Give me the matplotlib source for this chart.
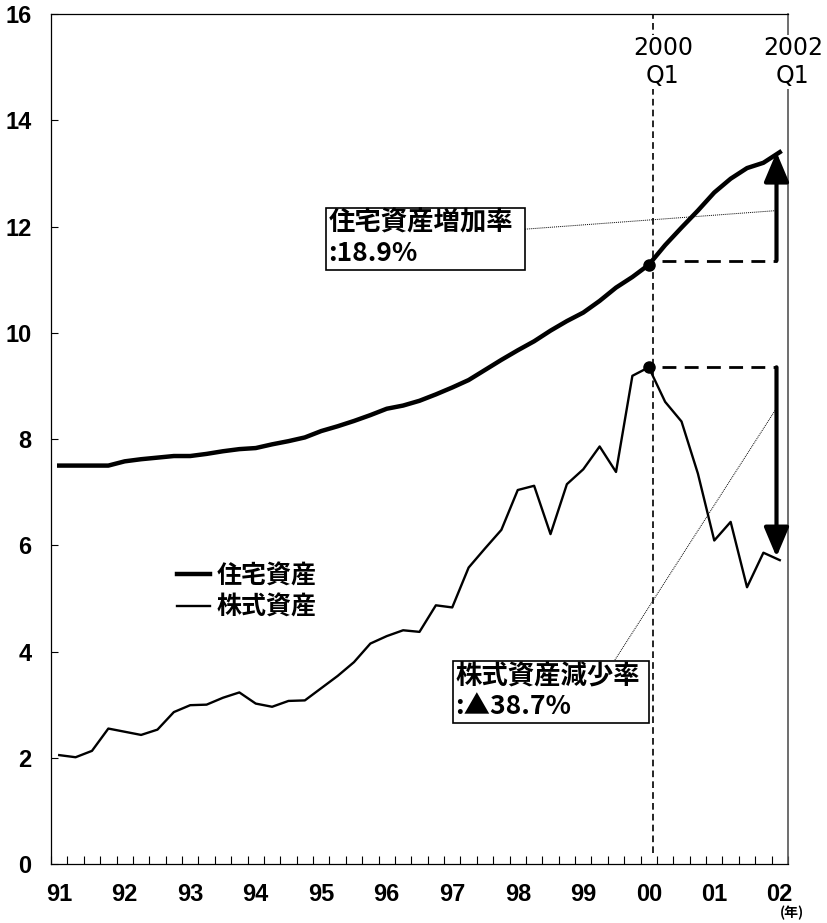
import numpy as np
import matplotlib.pyplot as plt
from matplotlib.patches import Rectangle

plt.rcParams['font.family'] = ['Noto Sans CJK JP', 'DejaVu Sans']

# quarterly data, 1991Q1 .. 2002Q1
year_labels = ['91', '92', '93', '94', '95', '96', '97', '98', '99', '00', '01', '02']
housing = [7.50, 7.50, 7.50, 7.50, 7.58, 7.62, 7.65, 7.68, 7.68, 7.72,
           7.77, 7.81, 7.83, 7.90, 7.96, 8.03, 8.15, 8.24, 8.34, 8.45,
           8.57, 8.63, 8.72, 8.84, 8.97, 9.11, 9.30, 9.49, 9.67, 9.84,
           10.04, 10.22, 10.38, 10.60, 10.85, 11.05, 11.28, 11.65, 11.98, 12.30,
           12.64, 12.90, 13.10, 13.20, 13.40]
stock = [2.05, 2.01, 2.13, 2.55, 2.49, 2.43, 2.53, 2.86, 2.99, 3.00,
         3.13, 3.23, 3.02, 2.96, 3.07, 3.08, 3.31, 3.54, 3.80, 4.15,
         4.29, 4.40, 4.37, 4.87, 4.83, 5.58, 5.94, 6.29, 7.04, 7.12,
         6.21, 7.15, 7.43, 7.86, 7.38, 9.19, 9.35, 8.70, 8.33, 7.35,
         6.09, 6.44, 5.21, 5.86, 5.72]
series_names = ['住宅資産', '株式資産']
house_note = ['住宅資産増加率', ':18.9%']
stock_note = ['株式資産減少率', ':▲38.7%']

x = np.arange(len(housing))
i0, i1 = 36, 44  # 2000Q1, 2002Q1

fig = plt.figure(figsize=(8.27, 9.23), dpi=100)
ax = fig.add_axes([0.0617, 0.0639, 0.8911, 0.9209])

l1, = ax.plot(x, housing, color='black', lw=3.2, solid_joinstyle='round', zorder=4)
l2, = ax.plot(x, stock, color='black', lw=1.7, zorder=4)
ax.plot([x[i0], x[i0]], [housing[i0], stock[i0]], 'o', color='black', ms=8, zorder=5)

ax.set_xlim(-0.5, len(x) - 0.5)
ax.set_ylim(0, 16)

# 2000Q1 marker line
xv = x[i0] + 0.25
ax.plot([xv, xv], [0.2, 16], color='black', lw=1.2, ls=(0, (4, 2.5)), zorder=3)

# change arrows
xa = x[i1] - 0.2
ax.plot([x[i0] + 0.8, xa], [housing[i0] + 0.08, housing[i0] + 0.08], color='black',
        lw=2, ls=(0, (5, 3)), zorder=3)
ax.plot([x[i0] + 0.8, xa], [stock[i0], stock[i0]], color='black',
        lw=2, ls=(0, (5, 3)), zorder=3)
arrow = dict(arrowstyle='-|>,head_length=0.9,head_width=0.38', lw=3, color='black',
             mutation_scale=20, shrinkA=0, shrinkB=0)
ax.annotate('', xy=(xa, housing[i1]), xytext=(xa, housing[i0] + 0.08), arrowprops=arrow, zorder=6)
ax.annotate('', xy=(xa, stock[i1] + 0.06), xytext=(xa, stock[i0]), arrowprops=arrow, zorder=6)

# leader lines
ax.plot([28.44, xa], [11.95, 12.30], color='black', lw=0.7, ls=(0, (1, 1)), zorder=3)
ax.plot([33.93, xa], [3.84, 8.58], color='black', lw=0.7, ls=(0, (1, 1)), zorder=3)

# note boxes
note_font = dict(fontsize=19, fontweight='bold', va='center', zorder=7)
ax.add_patch(Rectangle((16.29, 11.18), 28.44 - 16.29, 12.35 - 11.18, fill=True,
                       facecolor='white', edgecolor='black', lw=1.2, zorder=6))
ax.text(16.45, 12.07, house_note[0], **note_font)
ax.text(16.45, 11.5, house_note[1], **note_font)
ax.add_patch(Rectangle((24.04, 2.65), 36.0 - 24.04, 3.82 - 2.65, fill=True,
                       facecolor='white', edgecolor='black', lw=1.2, zorder=6))
ax.text(24.2, 3.52, stock_note[0], **note_font)
ax.text(24.2, 2.96, stock_note[1], **note_font)

# period labels
for xt, lab in [(36.86, '2000\nQ1'), (44.8, '2002\nQ1')]:
    ax.text(xt, 15.1, lab, fontsize=17, family='DejaVu Sans', ha='center', va='center',
            linespacing=1.2, clip_on=False, zorder=8,
            bbox=dict(facecolor='white', edgecolor='none', pad=1))

# axes styling
for s in ['left', 'bottom', 'top']:
    ax.spines[s].set_linewidth(0.9)
ax.spines['right'].set_color('#555555')
ax.spines['right'].set_linewidth(1.2)

ax.set_yticks(np.arange(0, 17, 2))
ax.set_yticklabels([str(v) for v in range(0, 17, 2)])
ax.tick_params(axis='y', direction='in', length=5, pad=14, labelsize=17)

ax.set_xticks(np.arange(-0.5, len(x), 1.0))
ax.set_xticklabels([])
ax.tick_params(axis='x', which='major', direction='in', length=6)
ax.set_xticks(x[::4], minor=True)
ax.set_xticklabels(year_labels, minor=True)
ax.tick_params(axis='x', which='minor', length=0, pad=14, labelsize=17)

for lab in ax.get_yticklabels() + ax.get_xticklabels(minor=True):
    lab.set_fontfamily('Liberation Sans')
    lab.set_fontweight('bold')

fig.text(792 / 827, 1 - 913 / 923, '(年)', fontsize=10, fontweight='bold', ha='center', va='center')

ax.legend([l1, l2], series_names, loc='upper left', bbox_to_anchor=(177 / 827, 1 - 564 / 923),
          bbox_transform=fig.transFigure, frameon=False, borderpad=0, borderaxespad=0,
          handlelength=1.3, handletextpad=0.3, labelspacing=0.3,
          prop={'size': 18, 'weight': 'bold'})

fig.savefig('out.png', dpi=100)
